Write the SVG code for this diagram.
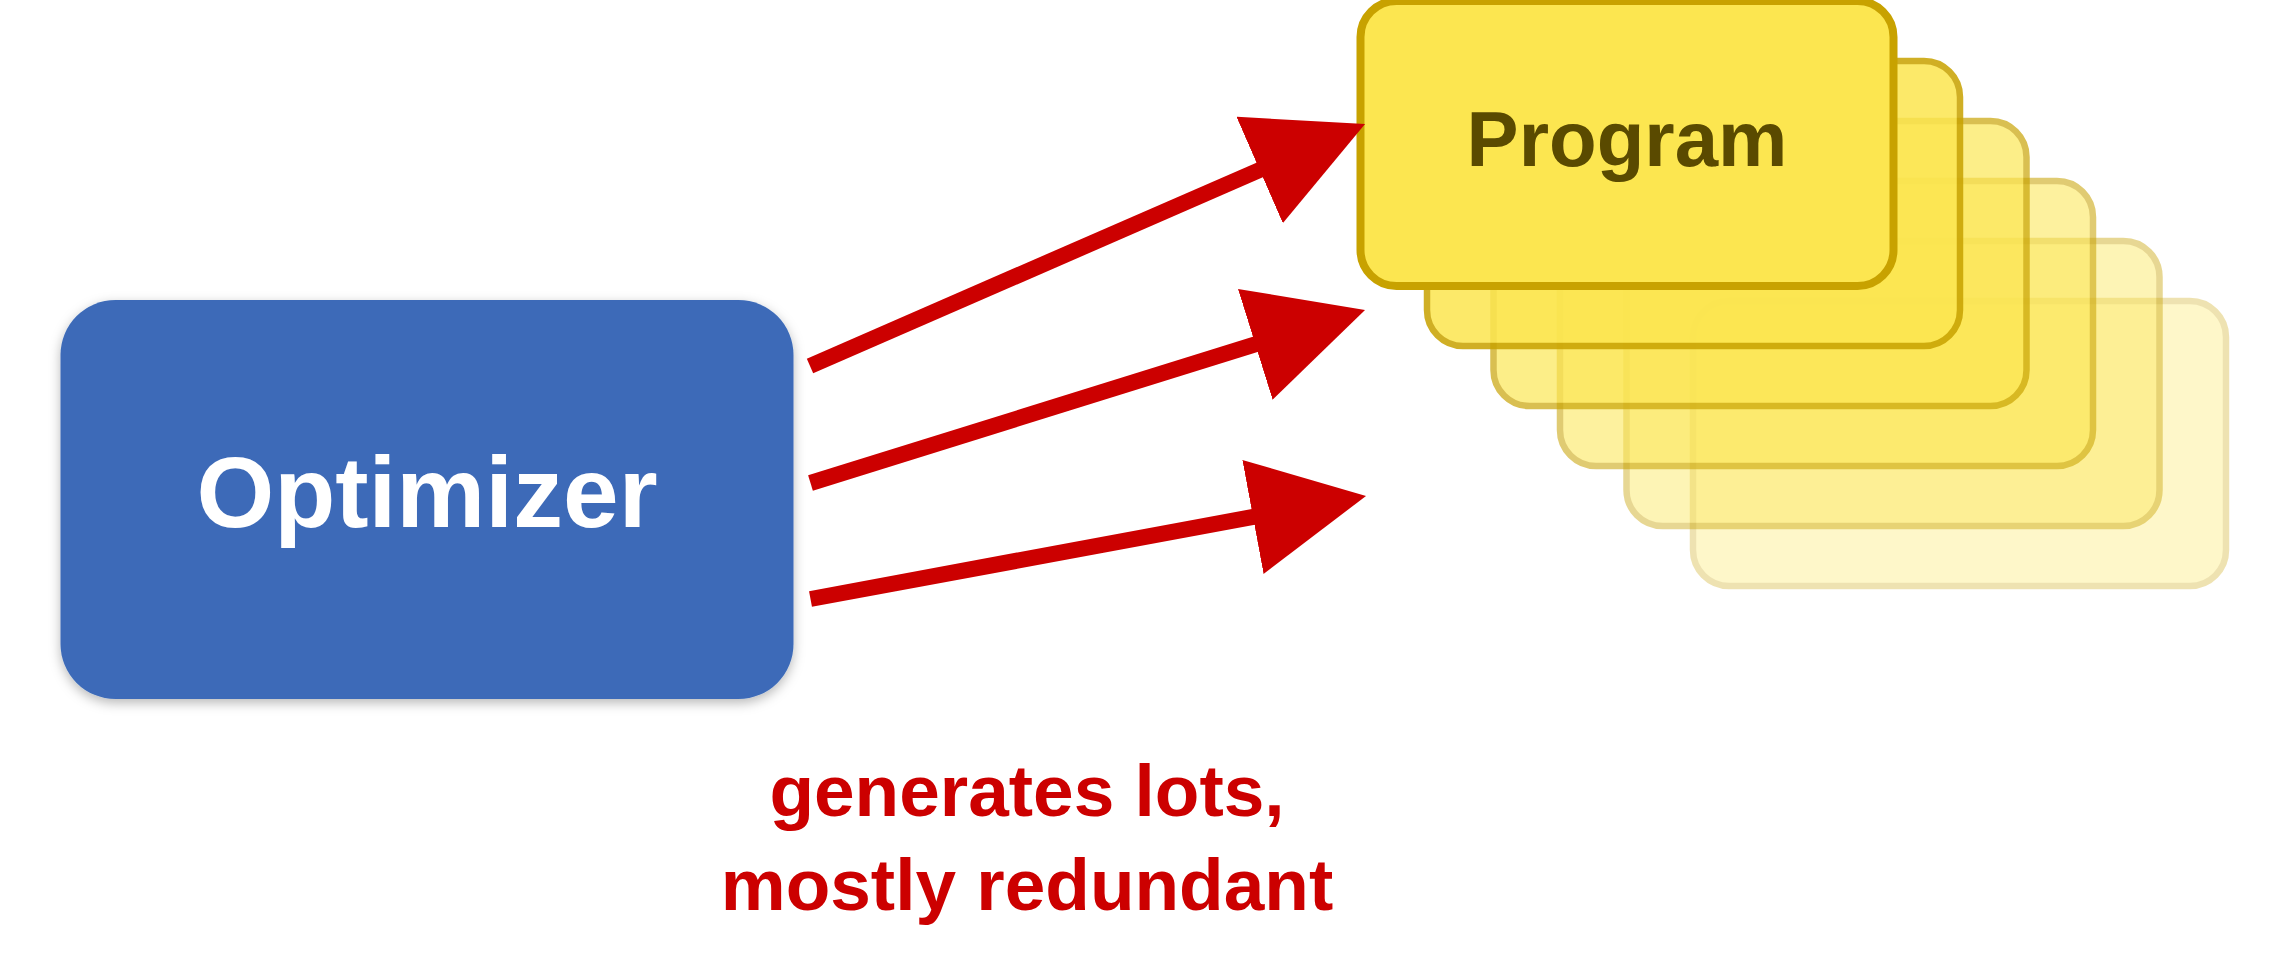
<svg xmlns="http://www.w3.org/2000/svg" width="2271" height="966" viewBox="0 0 2271 966">
  <style>
    .prog rect { fill: #FCE650; stroke: #C8A200; stroke-width: 6.5; }
    .prog.main rect { stroke-width: 8; }
    .lbl { font-family: "Liberation Sans", Arial, sans-serif; font-weight: bold; text-anchor: middle; }
    .arrow { stroke: #CC0000; stroke-width: 16; fill: none; stroke-linecap: butt; marker-end: url(#head); }
  </style>
  <defs>
    <filter id="shadow" x="-10%" y="-10%" width="120%" height="125%">
      <feDropShadow dx="0" dy="4" stdDeviation="6" flood-color="#000" flood-opacity="0.28"/>
    </filter>
    <marker id="head" markerUnits="userSpaceOnUse" markerWidth="116" markerHeight="116" refX="10" refY="58" orient="auto" viewBox="0 0 116 116">
      <path d="M0,0 L115,58 L0,116 Z" fill="#CC0000"/>
    </marker>
  </defs>
  <rect width="2271" height="966" fill="#FFFFFF"/>

  <g id="optimizer">
    <rect x="60.5" y="300" width="733" height="399" rx="55" ry="55" fill="#3C6BB8" filter="url(#shadow)"/>
    <text class="lbl" x="427" y="527" font-size="100" fill="#FFFFFF">Optimizer</text>
  </g>

  <g id="program-stack">
    <g id="program-6" class="prog" opacity="0.3"><rect x="1693" y="301" width="533" height="285" rx="36" ry="36"/></g>
    <g id="program-5" class="prog" opacity="0.42"><rect x="1626.5" y="241" width="533" height="285" rx="36" ry="36"/></g>
    <g id="program-4" class="prog" opacity="0.55"><rect x="1560" y="181" width="533" height="285" rx="36" ry="36"/></g>
    <g id="program-3" class="prog" opacity="0.68"><rect x="1493.5" y="121" width="533" height="285" rx="36" ry="36"/></g>
    <g id="program-2" class="prog" opacity="0.85"><rect x="1427" y="61" width="533" height="285" rx="36" ry="36"/></g>
    <g id="program" class="prog main">
      <rect x="1360.5" y="1" width="533" height="285" rx="36" ry="36"/>
      <text class="lbl" x="1627" y="166" font-size="78" fill="#5A4A00">Program</text>
    </g>
  </g>

  <g id="connectors">
    <path class="arrow" d="M810,366 L1268.8,166"/>
    <path class="arrow" d="M810.5,483 L1264.8,341.3"/>
    <path class="arrow" d="M810.5,599 L1262.8,515.1"/>
  </g>

  <g id="caption">
    <text class="lbl" x="1027" y="816" font-size="73" fill="#CC0000">generates lots,</text>
    <text class="lbl" x="1027" y="910" font-size="73" fill="#CC0000">mostly redundant</text>
  </g>
</svg>
